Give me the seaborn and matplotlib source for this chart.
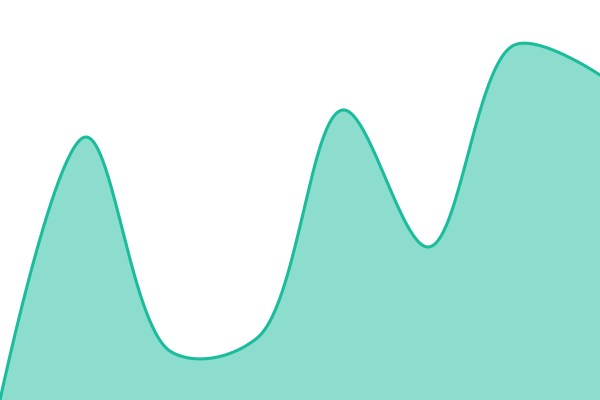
import numpy as np
import pandas as pd
import matplotlib
matplotlib.use("Agg")
import matplotlib.pyplot as plt
import seaborn as sns

# Data
positions = [0, 1, 2, 3, 4, 5, 6, 7]
values = [0, 263, 48, 62, 290, 153, 355, 325]

LINE_COLOR = "#1abc9c"
W, H = 600, 400
X_MAX, Y_MAX = 7, 400


def catmull_rom_centripetal(xp, yp, alpha=0.5, n=60):
    # work in display (pixel) units so the curve shape matches a screen spline
    sxp = np.asarray(xp, float) * W / X_MAX
    syp = np.asarray(yp, float) * H / Y_MAX
    pts = np.column_stack([sxp, syp])
    m = len(pts)
    t = np.linspace(0, 1, n)
    out = []
    for i in range(m - 1):
        p1, p2 = pts[i], pts[i + 1]
        p0 = pts[i - 1] if i > 0 else None
        p3 = pts[i + 2] if i + 2 < m else None
        d12 = np.linalg.norm(p2 - p1)
        l12_2a = d12 ** (2 * alpha)
        l12_a = d12 ** alpha
        c1 = p1.copy()
        if p0 is not None:
            d01 = np.linalg.norm(p1 - p0)
            l01_a, l01_2a = d01 ** alpha, d01 ** (2 * alpha)
            if l01_a > 1e-12:
                a = 2 * l01_2a + 3 * l01_a * l12_a + l12_2a
                nn = 3 * l01_a * (l01_a + l12_a)
                c1 = (p1 * a - p0 * l12_2a + p2 * l01_2a) / nn
        c2 = p2.copy()
        if p3 is not None:
            d23 = np.linalg.norm(p3 - p2)
            l23_a, l23_2a = d23 ** alpha, d23 ** (2 * alpha)
            if l23_a > 1e-12:
                b = 2 * l23_2a + 3 * l23_a * l12_a + l12_2a
                mm = 3 * l23_a * (l23_a + l12_a)
                c2 = (p2 * b + p1 * l23_2a - p3 * l12_2a) / mm
        bz = ((1 - t) ** 3)[:, None] * p1 + (3 * (1 - t) ** 2 * t)[:, None] * c1 \
            + (3 * (1 - t) * t ** 2)[:, None] * c2 + (t ** 3)[:, None] * p2
        if i > 0:
            bz = bz[1:]
        out.append(bz)
    out = np.vstack(out)
    return out[:, 0] * X_MAX / W, out[:, 1] * Y_MAX / H


sx, sy = catmull_rom_centripetal(positions, values)
df = pd.DataFrame({"x": sx, "y": sy})

sns.set_style("white")
fig = plt.figure(figsize=(6, 4), dpi=100)
ax = fig.add_axes([0, 0, 1, 1])
ax.fill_between(df["x"], df["y"], 0, color=LINE_COLOR, alpha=0.5, linewidth=0)
sns.lineplot(data=df, x="x", y="y", ax=ax, color=LINE_COLOR, linewidth=2.2, sort=False)
ax.set_xlim(0, X_MAX)
ax.set_ylim(0, Y_MAX)
ax.axis("off")
fig.savefig("out.png", dpi=100)
